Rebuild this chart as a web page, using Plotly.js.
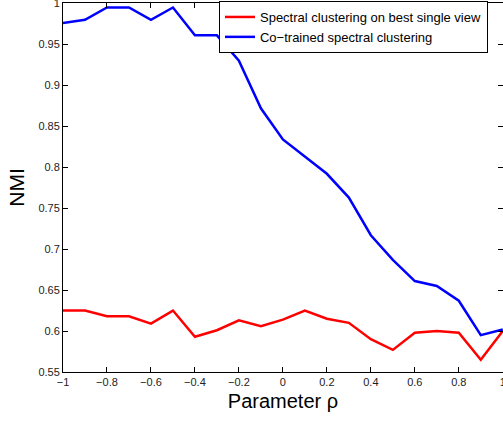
<!DOCTYPE html>
<html>
<head>
<meta charset="utf-8">
<script src="https://cdn.plot.ly/plotly-3.0.1.min.js"></script>
<style>html,body{margin:0;padding:0;background:#fff;}#chart{width:503px;height:421px;}</style>
</head>
<body>
<div id="chart"></div>
<script>
const rho = [-1, -0.9, -0.8, -0.7, -0.6, -0.5, -0.4, -0.3, -0.2, -0.1, 0, 0.1, 0.2, 0.3, 0.4, 0.5, 0.6, 0.7, 0.8, 0.9, 1];
const bestSingleView = [0.625, 0.625, 0.618, 0.618, 0.609, 0.625, 0.593, 0.601, 0.613, 0.606, 0.614, 0.625, 0.615, 0.610, 0.590, 0.577, 0.598, 0.600, 0.598, 0.565, 0.600];
const coTrained = [0.976, 0.980, 0.995, 0.995, 0.980, 0.995, 0.961, 0.961, 0.930, 0.872, 0.834, 0.813, 0.792, 0.763, 0.717, 0.687, 0.661, 0.655, 0.637, 0.595, 0.602];
const seriesNames = ['Spectral clustering on best single view', 'Co\u2212trained spectral clustering'];
const xTicks = [-1, -0.8, -0.6, -0.4, -0.2, 0, 0.2, 0.4, 0.6, 0.8, 1];
const yTicks = [0.55, 0.6, 0.65, 0.7, 0.75, 0.8, 0.85, 0.9, 0.95, 1];

const font = 'Liberation Sans, Arial, Helvetica, sans-serif';
const traces = [
  {x: rho, y: bestSingleView, name: seriesNames[0], mode: 'lines', line: {color: '#ff0000', width: 2.5}, cliponaxis: false},
  {x: rho, y: coTrained, name: seriesNames[1], mode: 'lines', line: {color: '#0000ff', width: 2.5}, cliponaxis: false}
];
const axisCommon = {
  showgrid: false, zeroline: false, showline: true, linecolor: '#000', linewidth: 1,
  mirror: 'ticks', ticks: 'inside', ticklen: 5, tickcolor: '#000', tickwidth: 1,
  ticklabeloverflow: 'allow',
  tickfont: {family: font, size: 11, color: '#222'}
};
const layout = {
  width: 503, height: 421,
  margin: {l: 63, r: 0, t: 3, b: 49},
  paper_bgcolor: '#fff', plot_bgcolor: '#fff',
  font: {family: font, color: '#000'},
  showlegend: true,
  legend: {
    x: 0.3545, y: 1.0054, xanchor: 'left', yanchor: 'top',
    bgcolor: '#fff', bordercolor: '#000', borderwidth: 1,
    font: {family: font, size: 13, color: '#000'},
    tracegroupgap: 0, itemwidth: 30
  },
  xaxis: Object.assign({}, axisCommon, {
    range: [-1, 1.001], tickmode: 'array', tickvals: xTicks,
    title: {text: 'Parameter \u03c1', font: {family: font, size: 20, color: '#000'}, standoff: 6}
  }),
  yaxis: Object.assign({}, axisCommon, {
    range: [0.55, 1.0005], tickmode: 'array', tickvals: yTicks,
    title: {text: 'NMI', font: {family: font, size: 21, color: '#000'}, standoff: 8}
  })
};
Plotly.newPlot('chart', traces, layout, {staticPlot: true, displayModeBar: false});
</script>
</body>
</html>
